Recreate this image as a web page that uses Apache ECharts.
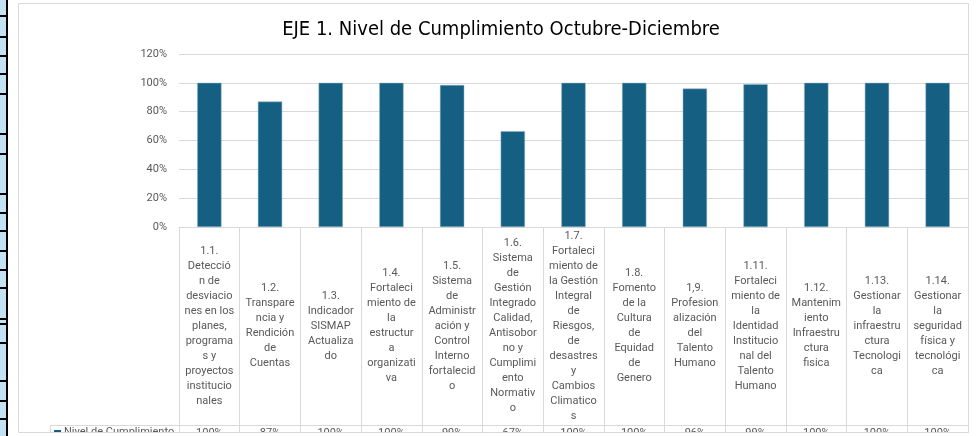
<!DOCTYPE html>
<html>
<head>
<meta charset="utf-8">
<script src="https://cdn.jsdelivr.net/npm/echarts@6/dist/echarts.min.js"></script>
<style>html,body{margin:0;padding:0;background:#fff;}#c{width:976px;height:436px;}</style>
</head>
<body>
<div id="c"></div>
<script>
var titleText = 'EJE 1. Nivel de Cumplimiento Octubre-Diciembre';
var seriesName = 'Nivel de Cumplimiento';
var categories = [
  '1.1.\nDetecció\nn de\ndesviacio\nnes en los\nplanes,\nprograma\ns y\nproyectos\ninstitucio\nnales',
  '1.2.\nTranspare\nncia y\nRendición\nde\nCuentas',
  '1.3.\nIndicador\nSISMAP\nActualiza\ndo',
  '1.4.\nFortaleci\nmiento de\nla\nestructur\na\norganizati\nva',
  '1.5.\nSistema\nde\nAdministr\nación y\nControl\nInterno\nfortalecid\no',
  '1.6.\nSistema\nde\nGestión\nIntegrado\nCalidad,\nAntisobor\nno y\nCumplimi\nento\nNormativ\no',
  '1.7.\nFortaleci\nmiento de\nla Gestión\nIntegral\nde\nRiesgos,\nde\ndesastres\ny\nCambios\nClimatico\ns',
  '1.8.\nFomento\nde la\nCultura\nde\nEquidad\nde\nGenero',
  '1,9.\nProfesion\nalización\ndel\nTalento\nHumano',
  '1.11.\nFortaleci\nmiento de\nla\nIdentidad\nInstitucio\nnal del\nTalento\nHumano',
  '1.12.\nMantenim\niento\nInfraestru\nctura\nfisica',
  '1.13.\nGestionar\nla\ninfraestru\nctura\nTecnologi\nca',
  '1.14.\nGestionar\nla\nseguridad\nfísica y\ntecnológi\nca'
];
var values = [1.00, 0.87, 1.00, 1.00, 0.985, 0.665, 1.00, 1.00, 0.96, 0.99, 1.00, 1.00, 1.00];
var tableLabels = ['100%', '87%', '100%', '100%', '99%', '67%', '100%', '100%', '96%', '99%', '100%', '100%', '100%'];
var yTicks = [0, 0.2, 0.4, 0.6, 0.8, 1.0, 1.2];

var stripLines = [15, 36, 55, 73, 93, 133, 153, 193, 212, 230, 250, 269, 287, 318, 323, 342, 380, 400, 418];

var chart = echarts.init(document.getElementById('c'), null, {renderer: 'canvas'});
var gray = '#595959';
var lineGray = '#d9d9d9';
var font = 'Roboto, "Open Sans", sans-serif';

var graphics = [];
graphics.push({type: 'rect', shape: {x: 0, y: 0, width: 6, height: 436}, style: {fill: '#c3e3f5'}, z: 100});
graphics.push({type: 'rect', shape: {x: 6, y: 0, width: 2, height: 436}, style: {fill: '#000'}, z: 101});
stripLines.forEach(function (y) {
  graphics.push({type: 'rect', shape: {x: 0, y: y, width: 7, height: 2}, style: {fill: '#000'}, z: 101});
});
// clip area below chart border
graphics.push({type: 'rect', shape: {x: 8, y: 433, width: 968, height: 3}, style: {fill: '#fff'}, z: 90});
graphics.push({type: 'rect', shape: {x: 18.5, y: 3.5, width: 950, height: 429}, style: {fill: 'none', stroke: lineGray, lineWidth: 1}, z: 91});
// legend row cell borders
graphics.push({type: 'line', shape: {x1: 50, y1: 425.5, x2: 179, y2: 425.5}, style: {stroke: lineGray, lineWidth: 1}, z: 50});
graphics.push({type: 'line', shape: {x1: 50.5, y1: 425, x2: 50.5, y2: 433}, style: {stroke: lineGray, lineWidth: 1}, z: 50});
// legend row key (part of the data table)
graphics.push({type: 'rect', shape: {x: 54, y: 430, width: 7, height: 6}, style: {fill: '#156082'}, z: 60});
graphics.push({type: 'text', x: 64, y: 427, style: {text: seriesName, fill: gray, font: '11px ' + font, textVerticalAlign: 'top'}, z: 60});

var option = {
  backgroundColor: '#fff',
  animation: false,
  title: {
    text: titleText,
    left: 496,
    textAlign: 'center',
    top: 15,
    textStyle: {fontFamily: '"Liberation Sans Narrow", "DejaVu Sans Condensed", sans-serif', fontSize: 20, fontWeight: 'normal', color: '#000'}
  },
  legend: {show: false, data: [seriesName]},
  grid: {left: 179, right: 8, top: 54, bottom: 209, containLabel: false, outerBoundsMode: 'none'},
  xAxis: [
    {
      type: 'category',
      data: categories,
      position: 'bottom',
      axisLine: {show: true, lineStyle: {color: lineGray, width: 1}},
      axisTick: {show: true, length: 206, interval: 0, alignWithLabel: false, lineStyle: {color: lineGray}},
      axisLabel: {interval: 0, margin: 99, verticalAlign: 'middle', align: 'center', lineHeight: 15,
        fontFamily: font, fontSize: 11, color: gray},
      splitLine: {show: false}
    },
    {
      type: 'category',
      data: tableLabels,
      position: 'bottom',
      offset: 198,
      axisLine: {show: true, lineStyle: {color: lineGray, width: 1}},
      axisTick: {show: false},
      axisLabel: {interval: 0, margin: 3, fontFamily: font, fontSize: 11, color: gray},
      splitLine: {show: false}
    }
  ],
  yAxis: {
    type: 'value',
    min: 0,
    max: 1.2,
    interval: 0.2,
    axisLine: {show: false},
    axisTick: {show: false},
    axisLabel: {margin: 12, fontFamily: font, fontSize: 11, color: gray,
      formatter: function (v) { return Math.round(v * 100) + '%'; }},
    splitLine: {lineStyle: {color: lineGray, width: 1}}
  },
  series: [{
    name: seriesName,
    type: 'bar',
    data: values,
    barWidth: '40%',
    itemStyle: {color: '#156082', borderColor: '#8fb3c6', borderWidth: 0.5}
  }],
  graphic: graphics
};
chart.setOption(option);
</script>
</body>
</html>
